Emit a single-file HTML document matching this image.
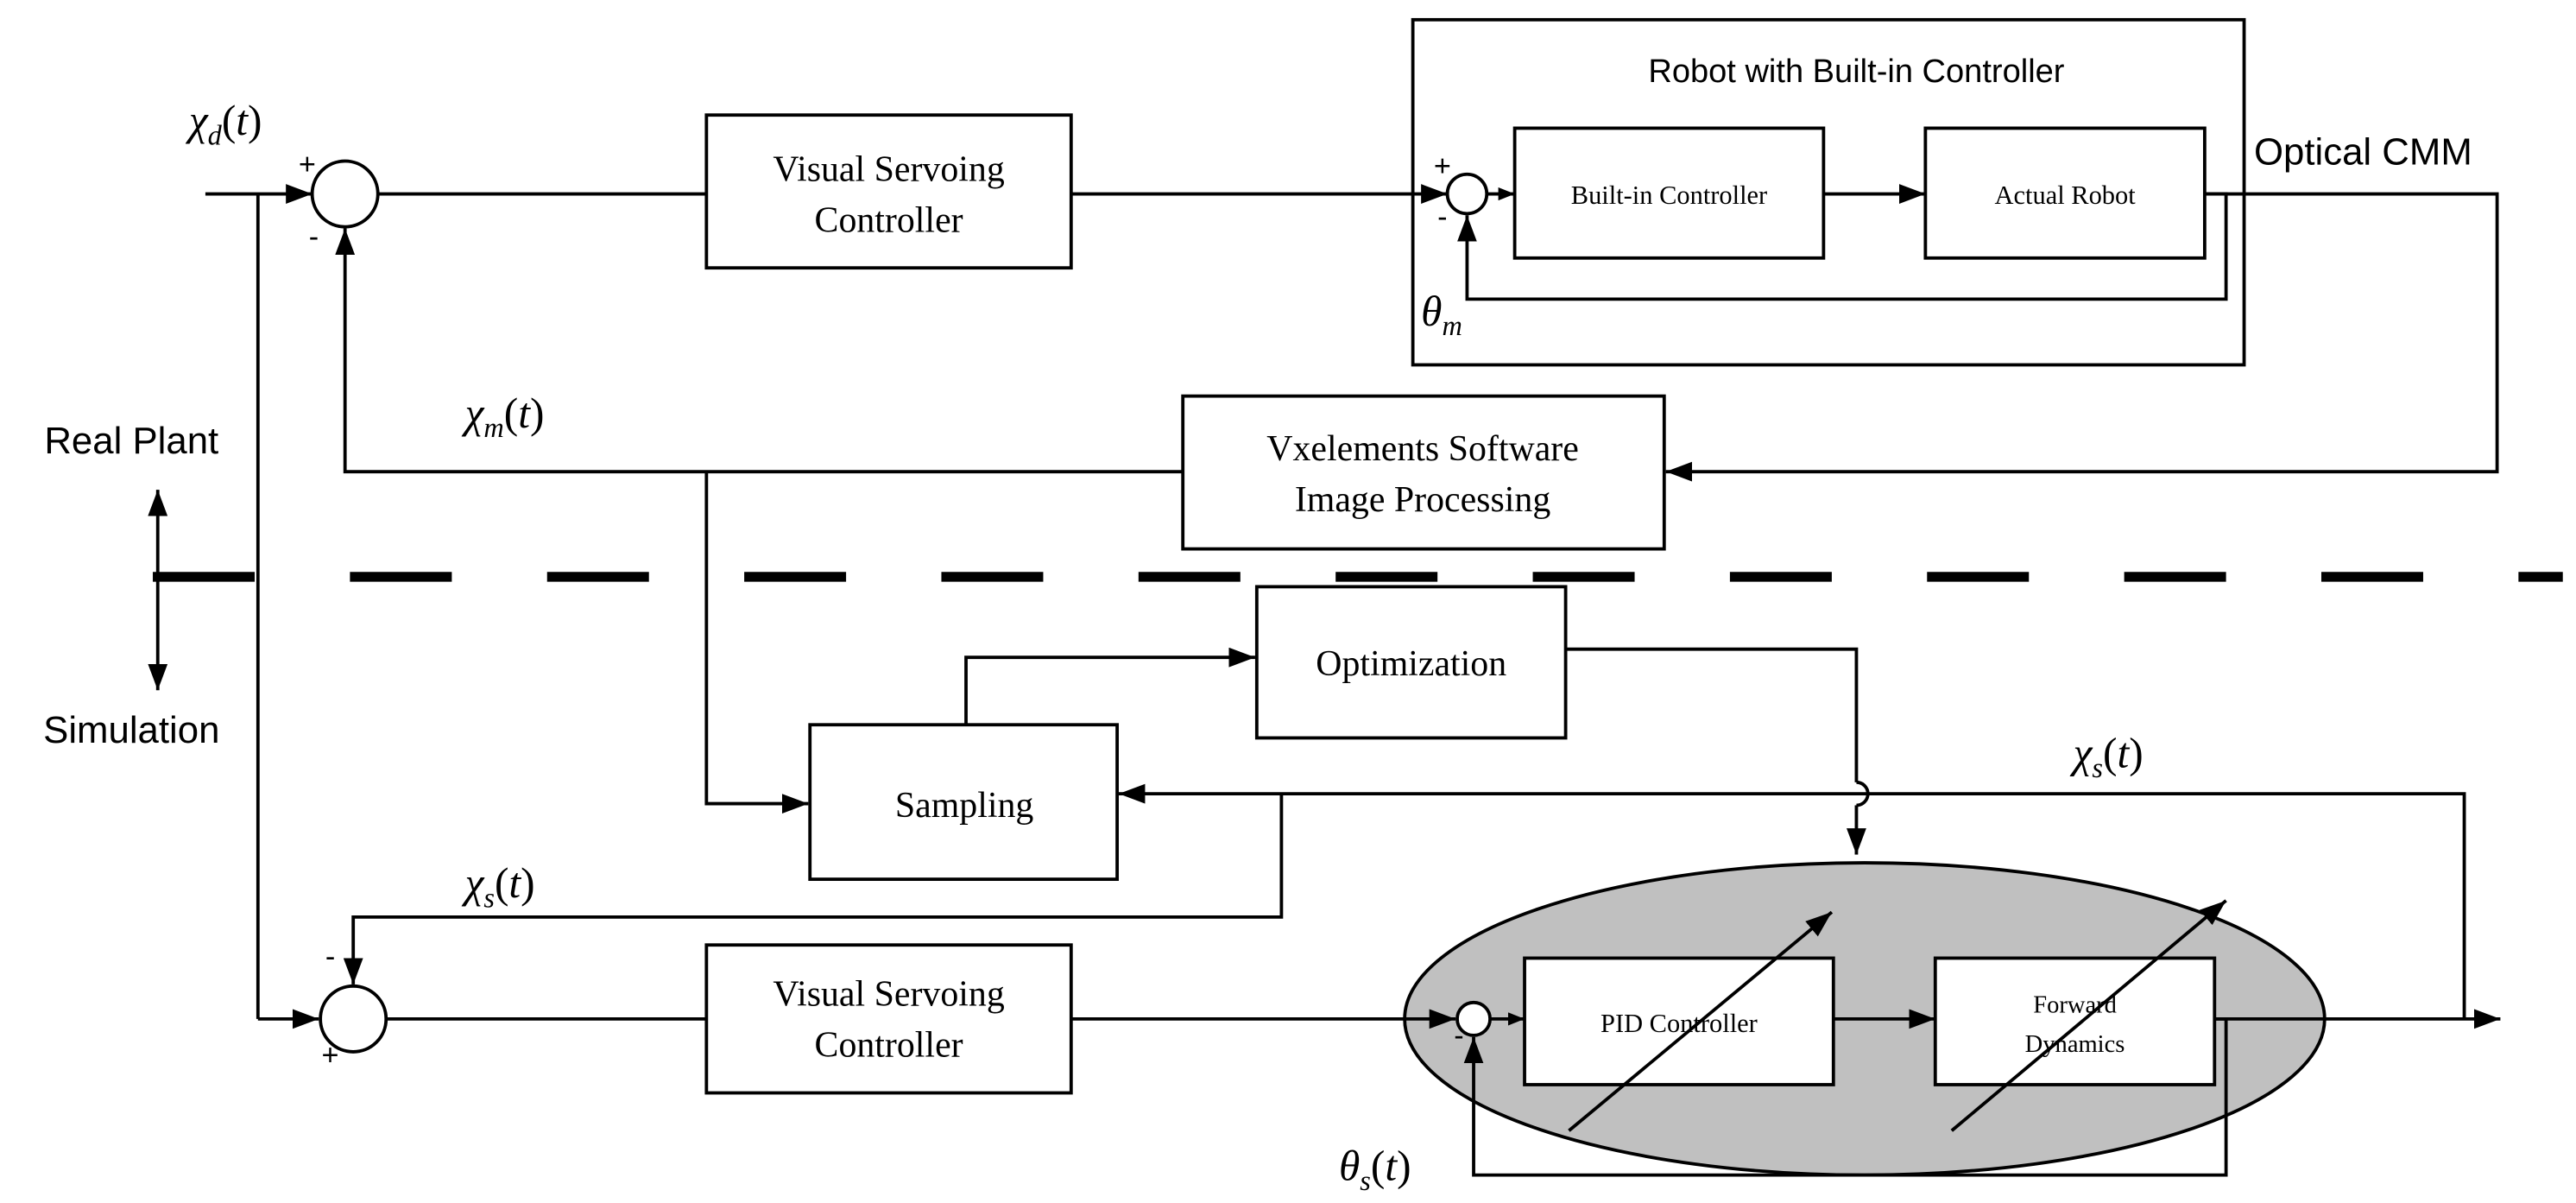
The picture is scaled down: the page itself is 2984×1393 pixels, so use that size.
<!DOCTYPE html>
<html><head><meta charset="utf-8"><style>
html,body{margin:0;padding:0;background:#fff;}
svg{display:block;}
.s{font-family:"Liberation Serif",serif;}
.a{font-family:"Liberation Sans",sans-serif;}
</style></head><body>
<svg width="2984" height="1393" viewBox="0 0 1568 732" xmlns="http://www.w3.org/2000/svg">
<defs>
<marker id="ar" markerWidth="10" markerHeight="8" refX="10" refY="4" orient="auto" markerUnits="userSpaceOnUse">
<path d="M0,0 L10,4 L0,8 Z" fill="#000"/></marker>
<marker id="ar2" markerWidth="16" markerHeight="12" refX="16" refY="6" orient="auto" markerUnits="userSpaceOnUse">
<path d="M0,0 L16,6 L0,12 Z" fill="#000"/></marker>
<marker id="ar3" markerWidth="16" markerHeight="12" refX="16" refY="6" orient="auto-start-reverse" markerUnits="userSpaceOnUse">
<path d="M0,0 L16,6 L0,12 Z" fill="#000"/></marker>
</defs>
<g fill="none" stroke="#000" stroke-width="2">
<line x1="125" y1="118" x2="190" y2="118" marker-end="url(#ar2)"/>
<circle cx="210" cy="118" r="20" fill="#fff"/>
<line x1="157" y1="118" x2="157" y2="620"/>
<line x1="230" y1="118" x2="430" y2="118"/>
<rect x="430" y="70" width="222" height="93" fill="#fff"/>
<line x1="652" y1="118" x2="881" y2="118" marker-end="url(#ar2)"/>
<rect x="860" y="12" width="506" height="210"/>
<circle cx="893" cy="118" r="12" fill="#fff"/>
<line x1="905" y1="118" x2="922" y2="118" marker-end="url(#ar)"/>
<rect x="922" y="78" width="188" height="79"/>
<line x1="1110" y1="118" x2="1172" y2="118" marker-end="url(#ar2)"/>
<rect x="1172" y="78" width="170" height="79"/>
<polyline points="1342,118 1520,118 1520,287 1014,287" marker-end="url(#ar2)"/>
<polyline points="1342,118 1355,118 1355,182 893,182 893,131" marker-end="url(#ar2)"/>
<rect x="720" y="241" width="293" height="93" fill="#fff"/>
<polyline points="720,287 210,287 210,139" marker-end="url(#ar2)"/>
<line x1="93" y1="351" x2="1560" y2="351" stroke-width="6" stroke-dasharray="62,58"/>
<line x1="96" y1="298" x2="96" y2="420" marker-start="url(#ar3)" marker-end="url(#ar3)"/>
<polyline points="430,287 430,489 492,489" marker-end="url(#ar2)"/>
<rect x="493" y="441" width="187" height="94" fill="#fff"/>
<polyline points="588,441 588,400 764,400" marker-end="url(#ar2)"/>
<rect x="765" y="357" width="188" height="92" fill="#fff"/>
<polyline points="953,395 1130,395 1130,476"/>
<path d="M1130,476 A7,7 0 0 1 1130,490"/>
<line x1="1130" y1="490" x2="1130" y2="520" marker-end="url(#ar2)"/>
<polyline points="1500,620 1500,483 681,483" marker-end="url(#ar2)"/>
<polyline points="780,483 780,558 215,558 215,599" marker-end="url(#ar2)"/>
<line x1="157" y1="620" x2="194" y2="620" marker-end="url(#ar2)"/>
<circle cx="215" cy="620" r="20" fill="#fff"/>
<line x1="235" y1="620" x2="430" y2="620"/>
<rect x="430" y="575" width="222" height="90" fill="#fff"/>
<ellipse cx="1135" cy="620" rx="280" ry="95" fill="#c0c0c0"/>
<line x1="652" y1="620" x2="886" y2="620" marker-end="url(#ar2)"/>
<circle cx="897" cy="620" r="10" fill="#fff"/>
<line x1="907" y1="620" x2="928" y2="620" marker-end="url(#ar)"/>
<rect x="928" y="583" width="188" height="77" fill="#fff"/>
<line x1="1116" y1="620" x2="1178" y2="620" marker-end="url(#ar2)"/>
<rect x="1178" y="583" width="170" height="77" fill="#fff"/>
<line x1="1348" y1="620" x2="1522" y2="620" marker-end="url(#ar2)"/>
<polyline points="1348,620 1355,620 1355,715 897,715 897,631" marker-end="url(#ar2)"/>
<line x1="955" y1="688" x2="1115" y2="555" marker-end="url(#ar2)"/>
<line x1="1188" y1="688" x2="1355" y2="548" marker-end="url(#ar2)"/>
</g>
<g font-size="22" class="s" text-anchor="middle">
<text x="541" y="110">Visual Servoing</text><text x="541" y="141">Controller</text>
<text x="866" y="280">Vxelements Software</text><text x="866" y="311">Image Processing</text>
<text x="859" y="411">Optimization</text>
<text x="587" y="497">Sampling</text>
<text x="541" y="612">Visual Servoing</text><text x="541" y="643">Controller</text>
<text x="1016" y="124" font-size="16">Built-in Controller</text>
<text x="1257" y="124" font-size="16">Actual Robot</text>
<text x="1022" y="628" font-size="16">PID Controller</text>
<text x="1263" y="616" font-size="15">Forward</text>
<text x="1263" y="640" font-size="15">Dynamics</text>
</g>
<g class="a" font-size="21">
<text x="1130" y="50" text-anchor="middle" font-size="20">Robot with Built-in Controller</text>
<text x="1372" y="100" font-size="23">Optical CMM</text>
<text x="80" y="276" text-anchor="middle" font-size="23">Real Plant</text>
<text x="80" y="452" text-anchor="middle" font-size="23">Simulation</text>
</g>
<g class="s" font-style="italic" font-size="26">
<text x="115" y="82">χ<tspan font-size="17" dy="6">d</tspan><tspan dy="-6" font-style="normal">(</tspan>t<tspan font-style="normal">)</tspan></text>
<text x="283" y="260">χ<tspan font-size="17" dy="6">m</tspan><tspan dy="-6" font-style="normal">(</tspan>t<tspan font-style="normal">)</tspan></text>
<text x="1262" y="467">χ<tspan font-size="17" dy="6">s</tspan><tspan dy="-6" font-style="normal">(</tspan>t<tspan font-style="normal">)</tspan></text>
<text x="283" y="546">χ<tspan font-size="17" dy="6">s</tspan><tspan dy="-6" font-style="normal">(</tspan>t<tspan font-style="normal">)</tspan></text>
<text x="865" y="198">θ<tspan font-size="17" dy="6">m</tspan></text>
<text x="815" y="718">θ<tspan font-size="17" dy="6">s</tspan><tspan dy="-6" font-style="normal">(</tspan>t<tspan font-style="normal">)</tspan></text>
</g>
<g class="a" font-size="18" text-anchor="middle">
<text x="187" y="106">+</text><text x="191" y="150">-</text>
<text x="878" y="107">+</text><text x="878" y="138">-</text>
<text x="201" y="588">-</text><text x="201" y="648">+</text>
<text x="888" y="636">-</text>
</g>
</svg>
</body></html>
